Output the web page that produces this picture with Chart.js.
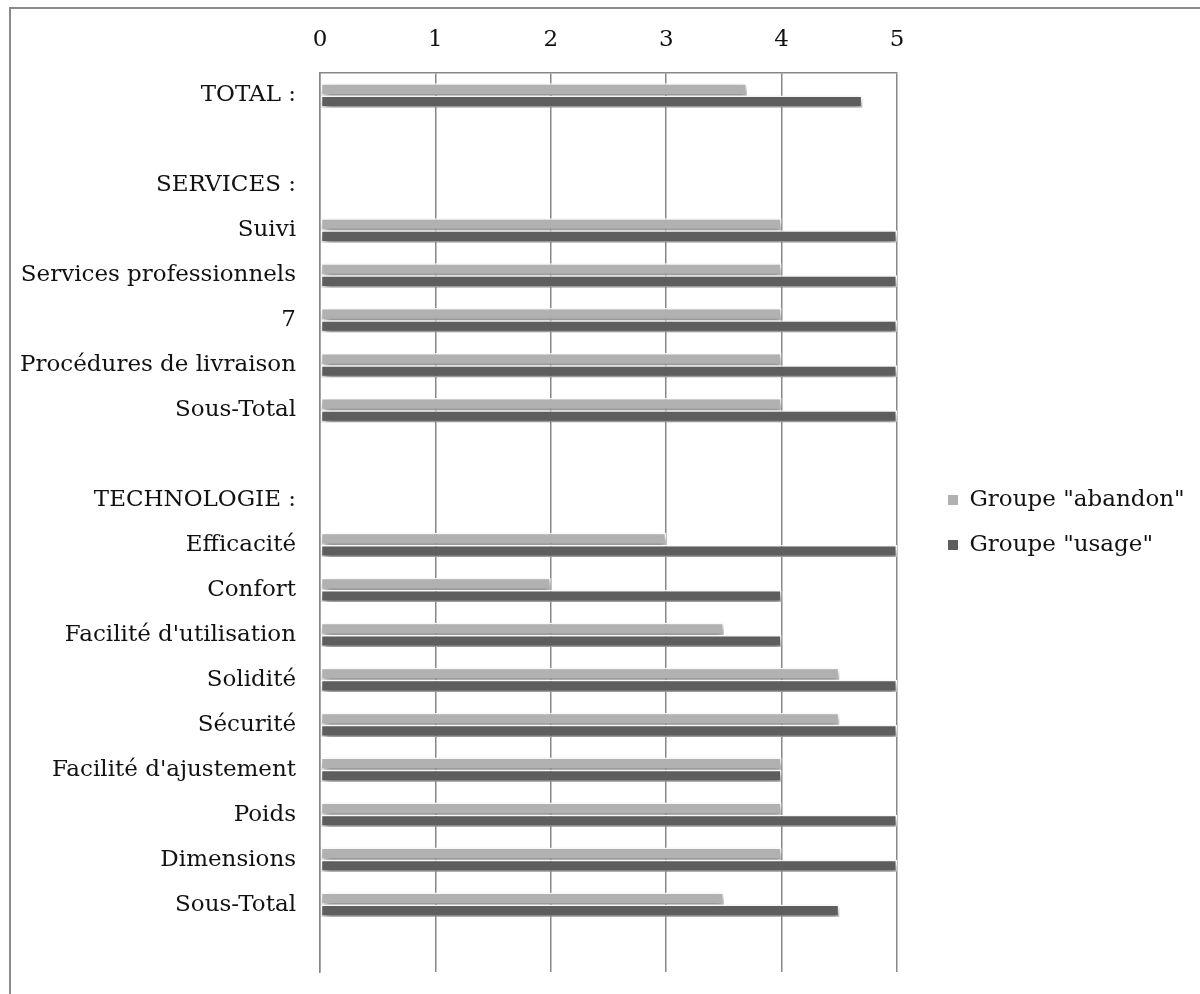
<!DOCTYPE html>
<html>
<head>
<meta charset="utf-8">
<script src="https://cdn.jsdelivr.net/npm/chart.js@4.4.1/dist/chart.umd.min.js"></script>
<style>
    html, body { margin: 0; padding: 0; background: #fff; }
    #wrap { position: relative; width: 1200px; height: 994px; overflow: hidden; }
    #cadre { position: absolute; left: 9px; top: 7px; width: 1300px; height: 1100px;
             border-left: 2px solid #8a8a8a; border-top: 2px solid #8a8a8a; }
    canvas { position: absolute; left: 0; top: 0; }
</style>
</head>
<body>
<div id="wrap">
    <div id="cadre"></div>
    <canvas id="graphique" width="1200" height="994"></canvas>
</div>
<script>
const categories = [
    'TOTAL :', '', 'SERVICES :', 'Suivi', 'Services professionnels', '7',
    'Procédures de livraison', 'Sous-Total', '', 'TECHNOLOGIE :', 'Efficacité',
    'Confort', "Facilité d'utilisation", 'Solidité', 'Sécurité',
    "Facilité d'ajustement", 'Poids', 'Dimensions', 'Sous-Total', ''
];
const groupeAbandon = [3.7, null, null, 4, 4, 4, 4, 4, null, null, 3, 2, 3.5, 4.5, 4.5, 4, 4, 4, 3.5, null];
const groupeUsage   = [4.7, null, null, 5, 5, 5, 5, 5, null, null, 5, 4, 4, 5, 5, 4, 5, 5, 4.5, null];
const seriesNames = ['Groupe "abandon"', 'Groupe "usage"'];
const xMin = 0, xMax = 5, xStep = 1;

const police = "'DejaVu Serif', serif";
const gris = '#878787';

// ombre portée sous les barres
const ombre = {
    id: 'ombre',
    beforeDatasetsDraw(chart) {
        const ctx = chart.ctx;
        ctx.save();
        ctx.shadowColor = 'rgba(0,0,0,0.5)';
        ctx.shadowBlur = 7;
        ctx.shadowOffsetX = 2;
        ctx.shadowOffsetY = 5;
    },
    afterDatasetsDraw(chart) {
        chart.ctx.restore();
    }
};

// légende à droite : la zone du graphique s'arrête à x=897, les carrés sont à x=948
const PLOT_RIGHT = 897, LEGEND_BOX_X = 948, LEGEND_PAD = 22;
const placeLegende = {
    id: 'placeLegende',
    beforeUpdate(chart) {
        const legend = chart.legend;
        if (!legend || legend._patched) return;
        const fit = legend.fit;
        legend.fit = function () {
            fit.call(this);
            this.width = chart.width - PLOT_RIGHT;
        };
        legend._patched = true;
    },
    afterLayout(chart) {
        chart.legend.left = LEGEND_BOX_X - LEGEND_PAD;
    }
};

const ctx = document.getElementById('graphique').getContext('2d');
new Chart(ctx, {
    type: 'bar',
    data: {
        labels: categories,
        datasets: [{
            label: seriesNames[0],
            data: groupeAbandon,
            backgroundColor: '#b1b1b1',
            borderColor: '#ffffff',
            borderWidth: 1.5,
            borderSkipped: false
        }, {
            label: seriesNames[1],
            data: groupeUsage,
            backgroundColor: '#5e5e5e',
            borderColor: '#ffffff',
            borderWidth: 1.5,
            borderSkipped: false
        }]
    },
    options: {
        indexAxis: 'y',
        responsive: false,
        animation: false,
        datasets: {
            bar: { categoryPercentage: 0.54, barPercentage: 1 }
        },
        layout: { padding: { left: 0, right: 0, top: 0, bottom: 22 } },
        scales: {
            x: {
                position: 'top',
                min: xMin,
                max: xMax,
                ticks: { stepSize: xStep, padding: 19, color: '#111', font: { family: police, size: 23 } },
                grid: { color: gris, lineWidth: 1.5, drawTicks: false },
                border: { color: gris, width: 1.5 },
                afterFit(scale) { scale.height = 73; }
            },
            y: {
                ticks: { padding: 24, color: '#111', autoSkip: false, font: { family: police, size: 23 } },
                grid: { display: false, drawTicks: false },
                border: { color: gris, width: 1.5 },
                afterFit(scale) {
                    scale.width = 320;
                    scale.paddingTop = 0;
                    scale.paddingBottom = 0;
                }
            }
        },
        plugins: {
            legend: {
                position: 'right',
                align: 'center',
                fullSize: false,
                labels: {
                    boxWidth: 10,
                    boxHeight: 10,
                    padding: LEGEND_PAD,
                    color: '#111',
                    font: { family: police, size: 23 },
                    generateLabels(chart) {
                        const items = Chart.defaults.plugins.legend.labels.generateLabels(chart);
                        items.forEach(it => { it.lineWidth = 0; it.strokeStyle = it.fillStyle; });
                        return items;
                    }
                }
            },
            tooltip: { enabled: false }
        }
    },
    plugins: [ombre, placeLegende]
});
</script>
</body>
</html>
